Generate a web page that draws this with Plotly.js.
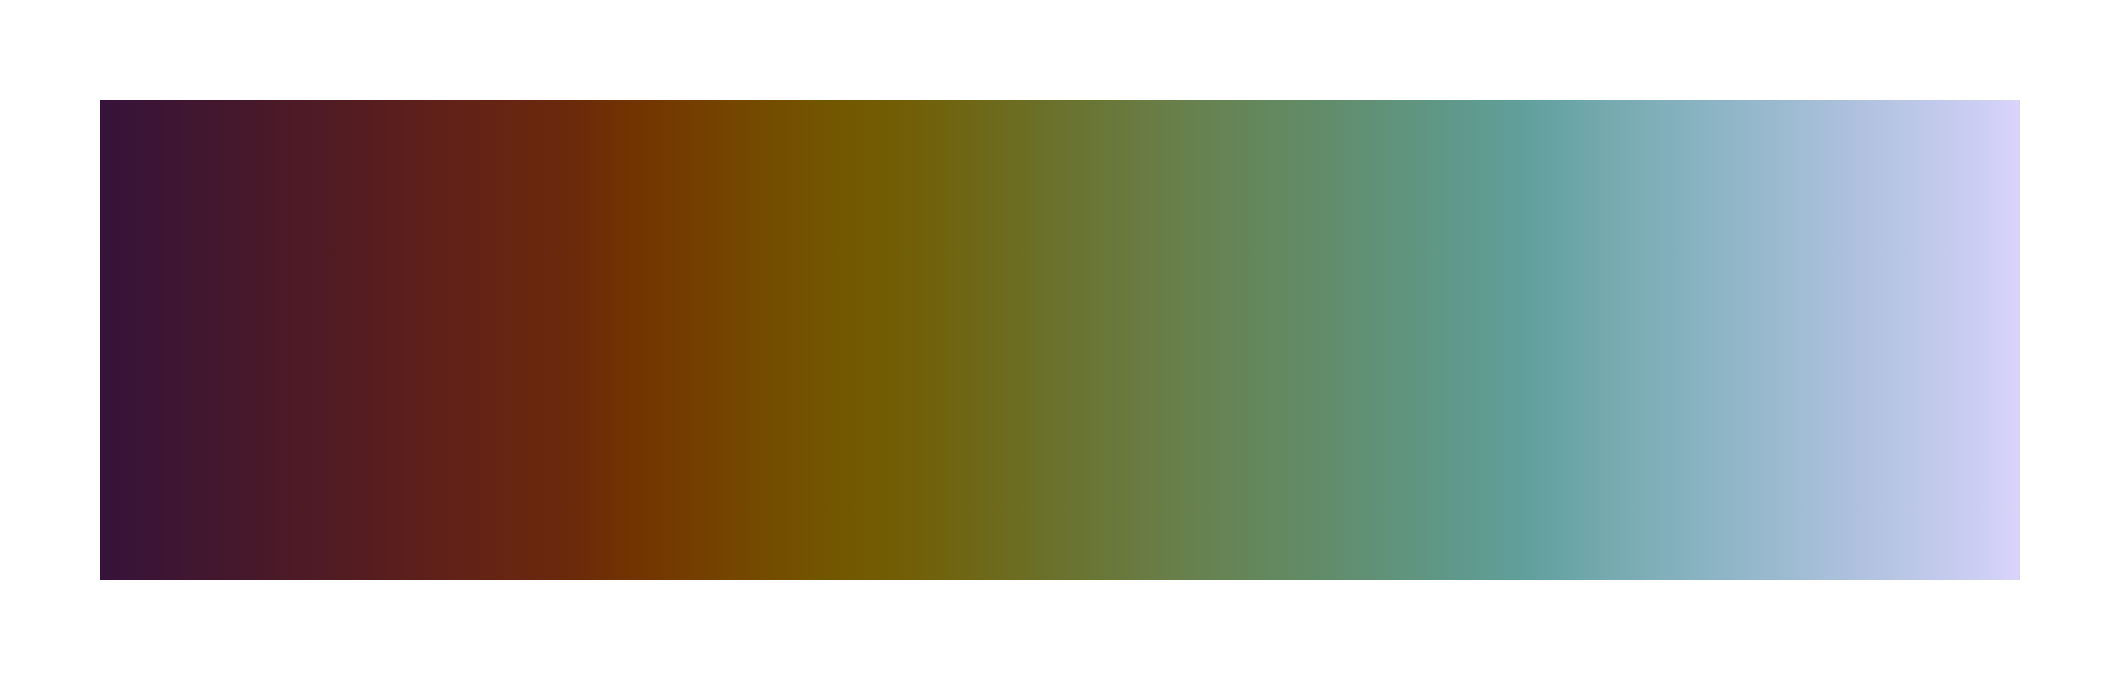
<!DOCTYPE html>
<html>
<head>
<meta charset="utf-8">
<script src="https://cdn.plot.ly/plotly-3.0.1.min.js"></script>
<style>
    html, body { margin: 0; padding: 0; background: #ffffff; }
</style>
</head>
<body>
<div id="swatch"></div>
<script>
const stopPositions = [0, 0.064, 0.128, 0.191, 0.249, 0.274, 0.303, 0.335, 0.376, 0.414,
    0.446, 0.5, 0.564, 0.628, 0.691, 0.746, 0.787, 0.851, 0.915, 0.978, 1]
const stopColors = ['#36133a', '#44172d', '#531c22', '#632216', '#6c2a0a', '#723302',
    '#743c00', '#744700', '#735500', '#725d04', '#6f6512', '#6a722d', '#68804c',
    '#628b66', '#5f9683', '#62a09e', '#76aab0', '#90b6c8', '#afc1de', '#cbcef3', '#dbd3fb']

// the strip runs over the whole scale, full height
const stripX = [0, 1]
const stripTop = [1, 1]

function plotSwatch() {
    const el = document.getElementById('swatch')

    const colorscale = stopPositions.map((p, i) => [p, stopColors[i]])

    let trace = {
        type: 'scatter',
        x: stripX,
        y: stripTop,
        mode: 'lines',
        line: { width: 0 },
        fill: 'tozeroy',
        fillgradient: {
            type: 'horizontal',
            start: stripX[0],
            stop: stripX[stripX.length - 1],
            colorscale
        },
        hoverinfo: 'skip',
        showlegend: false
    }

    let layout = {
        width: 2120,
        height: 680,
        margin: { l: 100, r: 100, t: 100, b: 100 },
        xaxis: {
            visible: false,
            range: [0, 1],
            fixedrange: true
        },
        yaxis: {
            visible: false,
            range: [0, 1],
            fixedrange: true
        },
        paper_bgcolor: '#ffffff',
        plot_bgcolor: '#ffffff'
    }

    Plotly.newPlot(el, [trace], layout, { displayModeBar: false, staticPlot: true })
}

plotSwatch()
</script>
</body>
</html>
